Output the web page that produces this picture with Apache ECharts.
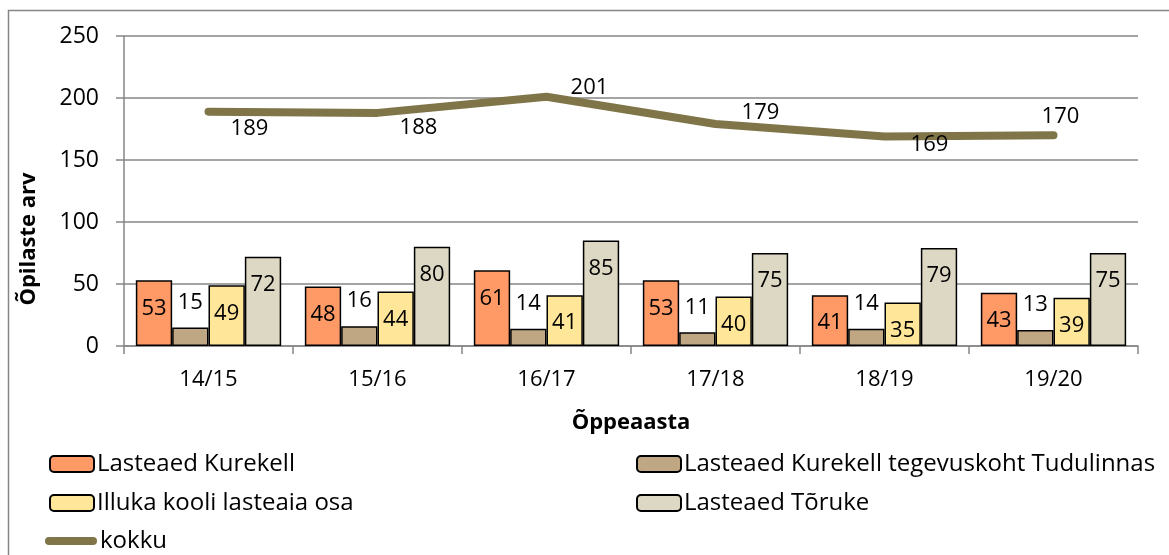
<!DOCTYPE html>
<html>
<head>
<meta charset="utf-8">
<script src="https://cdn.jsdelivr.net/npm/echarts@6/dist/echarts.min.js"></script>
<style>html,body{margin:0;padding:0;background:#fff}#c{width:1169px;height:555px}</style>
</head>
<body>
<div id="c"></div>
<script>
const categories = ['14/15', '15/16', '16/17', '17/18', '18/19', '19/20'];
const kurekell = [53, 48, 61, 53, 41, 43];
const tudulinnas = [15, 16, 14, 11, 14, 13];
const illuka = [49, 44, 41, 40, 35, 39];
const toruke = [72, 80, 85, 75, 79, 75];
const kokku = [189, 188, 201, 179, 169, 170];
const seriesNames = ['Lasteaed Kurekell', 'Lasteaed Kurekell tegevuskoht Tudulinnas', 'Illuka kooli lasteaia osa', 'Lasteaed Tõruke', 'kokku'];
const yTicks = [0, 50, 100, 150, 200, 250];

const FONT = 'Open Sans';
const colors = ['#FF9966', '#C0A784', '#FFE699', '#DDD8C3', '#7F7548'];
// label offsets for the total line (position tweak only)
const lineLabelOffsets = [[16, 17], [16, 15], [18, -9], [20, -11], [20, 8], [-18, -18]];

const chart = echarts.init(document.getElementById('c'), null, {renderer: 'canvas'});

function barSeries(name, data, color, labelPos, dist) {
  return {
    name: name, type: 'bar', data: data,
    barGap: '0%', barCategoryGap: '14%',
    itemStyle: {color: color, borderColor: '#000', borderWidth: 1.5},
    label: {show: true, position: labelPos, distance: dist, color: '#000', fontFamily: FONT, fontSize: 22},
    emphasis: {disabled: true}
  };
}

const legendBase = {
  itemWidth: 44, itemHeight: 16, itemGap: 4,
  textStyle: {fontFamily: FONT, fontSize: 24, color: '#000', padding: [0, 0, 0, -2]},
  selectedMode: false, padding: 0
};

const option = {
  animation: false,
  graphic: [{
    type: 'rect', shape: {x: 8.5, y: 10.5, width: 1200, height: 600},
    style: {fill: 'none', stroke: '#868686', lineWidth: 1.5}, silent: true, z: -1
  }],
  grid: {left: 124, right: 31, top: 36, bottom: 209, containLabel: false},
  legend: [
    Object.assign({}, legendBase, {data: [seriesNames[0]], left: 49, top: 452}),
    Object.assign({}, legendBase, {data: [seriesNames[1]], left: 636, top: 452}),
    Object.assign({}, legendBase, {data: [seriesNames[2]], left: 49, top: 491}),
    Object.assign({}, legendBase, {data: [seriesNames[3]], left: 636, top: 491}),
    Object.assign({}, legendBase, {data: [{name: seriesNames[4], icon: 'path://M4,0 L48,0 A4,4 0 0 1 48,8 L4,8 A4,4 0 0 1 4,0 Z'}], left: 45, top: 529, itemWidth: 52, itemHeight: 8})
  ],
  xAxis: {
    type: 'category', data: categories, boundaryGap: true,
    axisLine: {lineStyle: {color: '#868686', width: 1.5}},
    axisTick: {show: true, length: 8, alignWithLabel: false, lineStyle: {color: '#868686', width: 1.5}},
    axisLabel: {color: '#000', fontFamily: FONT, fontSize: 22, margin: 23},
    name: 'Õppeaasta', nameLocation: 'middle', nameGap: 66,
    nameTextStyle: {fontFamily: FONT, fontSize: 22, fontWeight: 'bold', color: '#000'}
  },
  yAxis: {
    type: 'value', min: 0, max: 250, interval: 50,
    axisLine: {show: true, lineStyle: {color: '#868686', width: 1.5}},
    axisTick: {show: true, length: 8, lineStyle: {color: '#868686', width: 1.5}},
    splitLine: {show: true, lineStyle: {color: '#868686', width: 1.5}},
    axisLabel: {color: '#000', fontFamily: FONT, fontSize: 23, margin: 25,
      formatter: v => yTicks.includes(v) ? String(v) : ''},
    name: 'Õpilaste arv', nameLocation: 'middle', nameGap: 84, nameRotate: 90,
    nameTextStyle: {fontFamily: FONT, fontSize: 22, fontWeight: 'bold', color: '#000', padding: [0, 96, 0, 0]}
  },
  series: [
    barSeries(seriesNames[0], kurekell, colors[0], 'insideTop', 17),
    barSeries(seriesNames[1], tudulinnas, colors[1], 'top', 14),
    barSeries(seriesNames[2], illuka, colors[2], 'insideTop', 17),
    barSeries(seriesNames[3], toruke, colors[3], 'insideTop', 17),
    {
      name: seriesNames[4], type: 'line',
      data: kokku.map((v, i) => ({value: v, label: {offset: lineLabelOffsets[i]}})),
      lineStyle: {color: colors[4], width: 8, cap: 'round', join: 'round'},
      itemStyle: {color: colors[4]},
      symbol: 'circle', symbolSize: 0.1, showSymbol: true, smooth: false,
      label: {show: true, position: 'right', distance: 6, color: '#000', fontFamily: FONT, fontSize: 22},
      emphasis: {disabled: true}, z: 5
    }
  ]
};
chart.setOption(option);
</script>
</body>
</html>
